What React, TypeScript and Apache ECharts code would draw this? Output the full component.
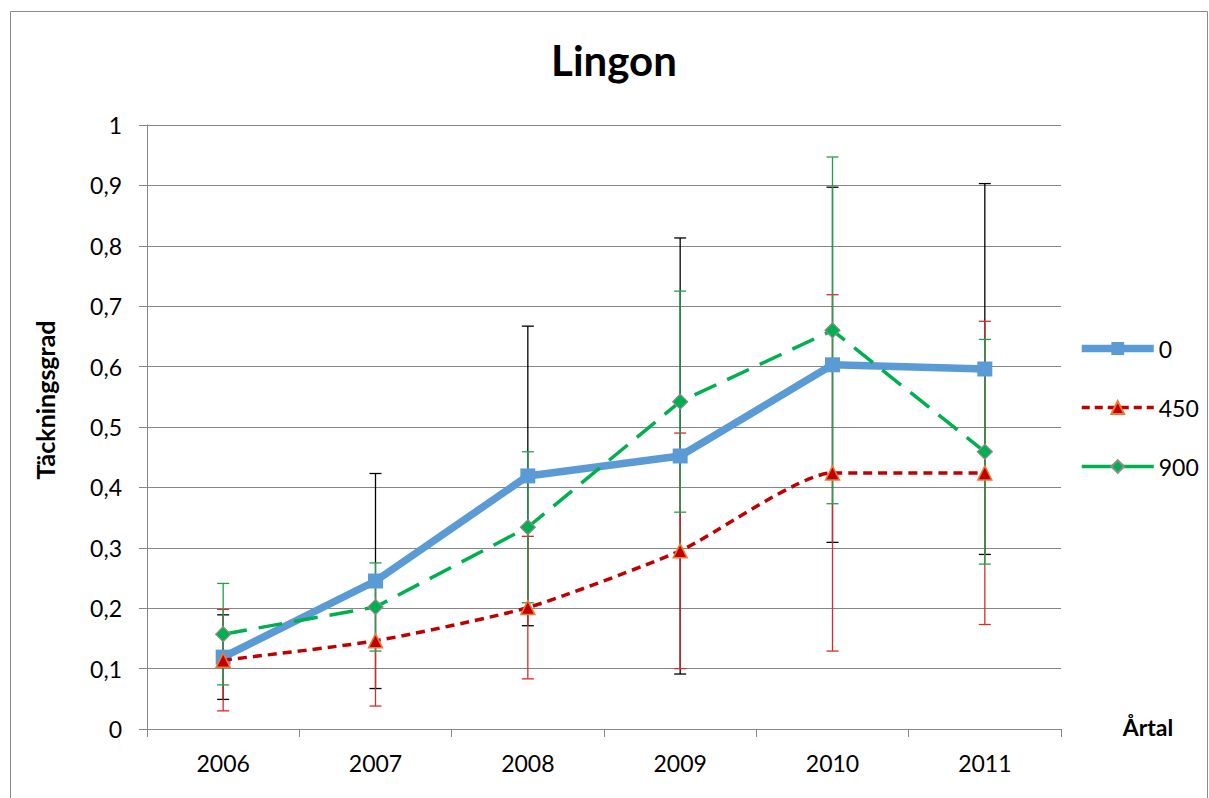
import React, { useEffect, useRef } from "react";
import * as echarts from "echarts";

const years = ["2006", "2007", "2008", "2009", "2010", "2011"];
const seriesNames = ["0", "450", "900"];
const values0 = [0.119, 0.245, 0.419, 0.452, 0.603, 0.596];
const err0 = [0.07, 0.178, 0.248, 0.361, 0.294, 0.307];
const values450 = [0.114, 0.146, 0.201, 0.295, 0.424, 0.424];
const err450 = [0.084, 0.108, 0.118, 0.195, 0.295, 0.251];
const values900 = [0.157, 0.202, 0.334, 0.542, 0.66, 0.459];
const err900 = [0.084, 0.073, 0.125, 0.183, 0.287, 0.186];

const FONT = "Lato, 'Open Sans', sans-serif";

function errData(vals: number[], errs: number[]) {
  return vals.map((v, i) => [i, v - errs[i], v + errs[i]]);
}

function errSeries(vals: number[], errs: number[], color: string, z: number) {
  return {
    type: "custom",
    silent: true,
    z,
    data: errData(vals, errs),
    renderItem: (params: any, api: any) => {
      const x = api.value(0);
      const lo = api.coord([x, api.value(1)]);
      const hi = api.coord([x, api.value(2)]);
      const hw = 6;
      const style = { stroke: color, lineWidth: 1.3 };
      return {
        type: "group",
        children: [
          { type: "line", shape: { x1: lo[0], y1: lo[1], x2: hi[0], y2: hi[1] }, style },
          { type: "line", shape: { x1: lo[0] - hw, y1: lo[1], x2: lo[0] + hw, y2: lo[1] }, style },
          { type: "line", shape: { x1: hi[0] - hw, y1: hi[1], x2: hi[0] + hw, y2: hi[1] }, style },
        ],
      };
    },
  };
}

export default function App() {
  const ref = useRef<HTMLDivElement>(null);
  useEffect(() => {
    if (!ref.current) return;
    const chart = echarts.init(ref.current, null, { renderer: "svg" });
    chart.setOption({
      animation: false,
      backgroundColor: "#fff",
      textStyle: { fontFamily: FONT },
      title: {
        text: "Lingon",
        left: 609,
        textAlign: "center",
        top: 34,
        textStyle: { fontFamily: FONT, fontSize: 42, fontWeight: "bold", color: "#000" },
      },
      graphic: [
        {
          type: "rect",
          shape: { x: 10.5, y: 11.5, width: 1197, height: 800 },
          style: { fill: "none", stroke: "#8c8c8c", lineWidth: 1 },
          silent: true,
        },
        {
          type: "text",
          x: 45,
          y: 400,
          rotation: Math.PI / 2,
          style: {
            text: "Täckningsgrad",
            fontFamily: FONT,
            fontSize: 25,
            fontWeight: "bold",
            fill: "#000",
            align: "center",
            verticalAlign: "middle",
          },
          silent: true,
        },
        {
          type: "text",
          x: 1148,
          y: 727,
          style: {
            text: "Årtal",
            fontFamily: FONT,
            fontSize: 23,
            fontWeight: "bold",
            fill: "#000",
            align: "center",
            verticalAlign: "middle",
          },
          silent: true,
        },
      ],
      legend: {
        data: [
          { name: seriesNames[0], lineStyle: { width: 7.5, color: "#5b9bd5" } },
          { name: seriesNames[1], lineStyle: { width: 3.5, color: "#c00000", type: [8, 5] } },
          { name: seriesNames[2], lineStyle: { width: 3.5, color: "#00b050", type: "solid" } },
        ],
        orient: "vertical",
        left: 1078,
        top: 337,
        padding: 0,
        itemWidth: 72,
        itemHeight: 16,
        itemGap: 36,
        textStyle: { fontFamily: FONT, fontSize: 23, color: "#000", lineHeight: 16 },
      },
      grid: { left: 147, top: 125, width: 914, height: 604, containLabel: false, outerBoundsMode: "none" },
      xAxis: {
        type: "category",
        data: years,
        boundaryGap: true,
        axisLine: { lineStyle: { color: "#868686", width: 1 } },
        axisTick: { show: true, inside: false, length: 8, alignWithLabel: false, lineStyle: { color: "#868686" } },
        axisLabel: { fontFamily: FONT, fontSize: 23, color: "#000", margin: 22 },
      },
      yAxis: {
        type: "value",
        min: 0,
        max: 1,
        interval: 0.1,
        axisLine: { show: true, lineStyle: { color: "#868686", width: 1 } },
        axisTick: { show: true, length: 8, lineStyle: { color: "#868686" } },
        splitLine: { show: true, lineStyle: { color: "#868686", width: 1 } },
        axisLabel: {
          fontFamily: FONT,
          fontSize: 23,
          color: "#000",
          margin: 25,
          formatter: (v: number) => String(Math.round(v * 10) / 10).replace(".", ","),
        },
      },
      series: [
        errSeries(values0, err0, "#000000", 3),
        errSeries(values450, err450, "#d92b2b", 3),
        errSeries(values900, err900, "#1fa050", 3),
        {
          name: seriesNames[0],
          type: "line",
          data: values0,
          z: 4,
          symbol: "rect",
          symbolSize: 15,
          color: "#5b9bd5",
          lineStyle: { color: "#5b9bd5", width: 7.5 },
          itemStyle: { color: "#5b9bd5" },
        },
        {
          name: seriesNames[1],
          type: "line",
          data: values450,
          z: 5,
          smooth: 0.2,
          symbol: "triangle",
          symbolSize: 14,
          color: "#c00000",
          lineStyle: { color: "#c00000", width: 3.5, type: [9, 6] },
          itemStyle: { color: "#c00000", borderColor: "#f07a30", borderWidth: 1.5 },
        },
        {
          name: seriesNames[2],
          type: "line",
          data: values900,
          z: 5,
          symbol: "diamond",
          symbolSize: 15,
          color: "#00b050",
          lineStyle: { color: "#00b050", width: 3.5, type: [24, 12] },
          itemStyle: { color: "#00b050", borderColor: "#8c8c8c", borderWidth: 1.2 },
        },
      ],
    });
    return () => chart.dispose();
  }, []);
  return (
    <div
      ref={ref}
      style={{ position: "fixed", left: 0, top: 0, width: 1209, height: 798 }}
    />
  );
}
